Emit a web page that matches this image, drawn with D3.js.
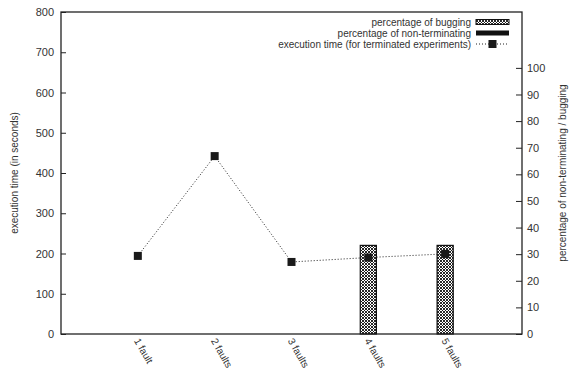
<!DOCTYPE html>
<html>
<head>
<meta charset="utf-8">
<script src="https://cdn.jsdelivr.net/npm/d3@7"></script>
<style>
  body { margin: 0; background: #fff; }
  text { font-family: "Liberation Sans", Arial, sans-serif; fill: #333; }
</style>
</head>
<body>
<div id="chart"></div>
<script>
const categories = ["1 fault", "2 faults", "3 faults", "4 faults", "5 faults"];
const execTime = [194, 442, 179, 190, 199];
const bugging = [0, 0, 0, 33.3, 33.3];
const nonTerminating = [0, 0, 0, 0, 0];
const leftTicks = [0, 100, 200, 300, 400, 500, 600, 700, 800];
const rightTicks = [0, 10, 20, 30, 40, 50, 60, 70, 80, 90, 100];
const legendLabels = [
  "percentage of bugging",
  "percentage of non-terminating",
  "execution time (for terminated experiments)"
];

let w = 576;
let h = 374;
let marginTop = 12;
let marginRight = 54;
let marginBottom = 40;
let marginLeft = 61;

let x = d3.scaleLinear().domain([0, 6]).range([marginLeft, w - marginRight]);
let y = d3.scaleLinear().domain([0, 800]).range([h - marginBottom, marginTop]);
let y2 = d3.scaleLinear().domain([0, 121]).range([h - marginBottom, marginTop]);
let barW = x(0.21) - x(0);

let svg = d3
  .select("#chart")
  .append("svg")
  .attr("width", w)
  .attr("height", h);

// checkered fill like the gnuplot pattern
let pat = svg
  .append("defs")
  .append("pattern")
  .attr("id", "hatch")
  .attr("width", 3)
  .attr("height", 3)
  .attr("patternUnits", "userSpaceOnUse");
pat.append("rect").attr("width", 3).attr("height", 3).attr("fill", "#fff");
pat
  .append("path")
  .attr("d", "M0,0L3,3M3,0L0,3")
  .attr("stroke", "#111")
  .attr("stroke-width", 0.9);

// axes
svg
  .append("g")
  .attr("transform", `translate(${marginLeft},0)`)
  .call(d3.axisLeft(y).tickValues(leftTicks).tickSize(-5).tickPadding(7))
  .call(function (g) {
    g.select(".domain").remove();
    g.selectAll("text").attr("font-size", 11);
    g.selectAll("line").attr("stroke", "#222");
  });

svg
  .append("g")
  .attr("transform", `translate(${w - marginRight},0)`)
  .call(d3.axisRight(y2).tickValues(rightTicks).tickSize(-6).tickPadding(5))
  .call(function (g) {
    g.select(".domain").remove();
    g.selectAll("text").attr("font-size", 11);
    g.selectAll("line").attr("stroke", "#222");
  });

svg
  .append("g")
  .selectAll("text")
  .data(categories)
  .enter()
  .append("text")
  .attr("transform", function (d, i) {
    return `translate(${x(i + 1) - 1},${h - marginBottom + 5}) rotate(60)`;
  })
  .attr("font-size", 10)
  .attr("dy", "0.35em")
  .text(function (d) {
    return d;
  });

// bars, drawn only where the value is above zero
function drawBars(values, fill) {
  let data = values
    .map(function (d, i) {
      return { v: d, i: i };
    })
    .filter(function (d) {
      return d.v > 0;
    });

  svg
    .append("g")
    .selectAll("rect")
    .data(data)
    .enter()
    .append("rect")
    .attr("x", function (d) {
      return x(d.i + 1) - barW / 2;
    })
    .attr("y", function (d) {
      return y2(d.v);
    })
    .attr("width", barW)
    .attr("height", function (d) {
      return y2(0) - y2(d.v);
    })
    .attr("fill", fill)
    .attr("stroke", "#111")
    .attr("stroke-width", 1.2);
}

drawBars(bugging, "url(#hatch)");
drawBars(nonTerminating, "#111");

// execution time line
let line = d3
  .line()
  .x(function (d, i) {
    return x(i + 1);
  })
  .y(function (d) {
    return y(d);
  });

svg
  .append("path")
  .datum(execTime)
  .attr("d", line)
  .attr("fill", "none")
  .attr("stroke", "#222")
  .attr("stroke-width", 1)
  .attr("stroke-dasharray", "1,2");

svg
  .append("g")
  .selectAll("rect")
  .data(execTime)
  .enter()
  .append("rect")
  .attr("x", function (d, i) {
    return x(i + 1) - 4;
  })
  .attr("y", function (d) {
    return y(d) - 4;
  })
  .attr("width", 8)
  .attr("height", 8)
  .attr("fill", "#1a1a1a");

// frame
svg
  .append("rect")
  .attr("x", marginLeft)
  .attr("y", marginTop)
  .attr("width", w - marginRight - marginLeft)
  .attr("height", h - marginBottom - marginTop)
  .attr("fill", "none")
  .attr("stroke", "#222")
  .attr("stroke-width", 1.3);

// axis titles
svg
  .append("text")
  .attr("transform", `translate(18,${(marginTop + h - marginBottom) / 2}) rotate(-90)`)
  .attr("text-anchor", "middle")
  .attr("font-size", 10)
  .text("execution time (in seconds)");

svg
  .append("text")
  .attr("transform", `translate(566,${(marginTop + h - marginBottom) / 2}) rotate(-90)`)
  .attr("text-anchor", "middle")
  .attr("font-size", 10)
  .text("percentage of non-terminating / bugging");

// legend
let legend = svg.append("g");
let legendY = [22, 33, 44];
legend
  .selectAll("text")
  .data(legendLabels)
  .enter()
  .append("text")
  .attr("x", 471)
  .attr("y", function (d, i) {
    return legendY[i];
  })
  .attr("dy", "0.35em")
  .attr("text-anchor", "end")
  .attr("font-size", 10)
  .text(function (d) {
    return d;
  });

legend
  .append("rect")
  .attr("x", 476)
  .attr("y", legendY[0] - 2.5)
  .attr("width", 33)
  .attr("height", 5)
  .attr("fill", "url(#hatch)")
  .attr("stroke", "#111")
  .attr("stroke-width", 1);

legend
  .append("rect")
  .attr("x", 476)
  .attr("y", legendY[1] - 2.5)
  .attr("width", 33)
  .attr("height", 5)
  .attr("fill", "#111");

legend
  .append("line")
  .attr("x1", 476)
  .attr("x2", 509)
  .attr("y1", legendY[2])
  .attr("y2", legendY[2])
  .attr("stroke", "#222")
  .attr("stroke-dasharray", "1,2");

legend
  .append("rect")
  .attr("x", 488.5)
  .attr("y", legendY[2] - 4)
  .attr("width", 8)
  .attr("height", 8)
  .attr("fill", "#1a1a1a");
</script>
</body>
</html>
